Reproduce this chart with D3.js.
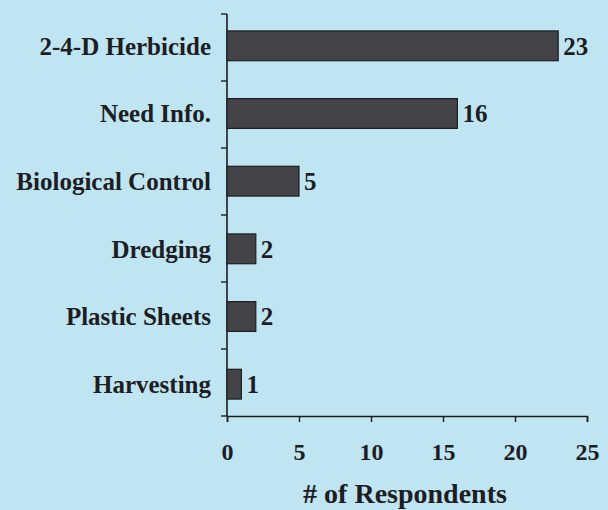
<!DOCTYPE html>
<html>
<head>
<meta charset="utf-8">
<script src="https://cdn.jsdelivr.net/npm/d3@7"></script>
<style>
  html, body { margin: 0; padding: 0; background: #bfe4f2; }
  svg { display: block; }
</style>
</head>
<body>
<div id="chart"></div>
<script>
const categories = ['2-4-D Herbicide', 'Need Info.', 'Biological Control', 'Dredging', 'Plastic Sheets', 'Harvesting'];
const respondents = [23, 16, 5, 2, 2, 1];
const xTicks = [0, 5, 10, 15, 20, 25];

const data = categories.map((c, i) => ({ label: c, value: respondents[i] }));

const margin = { top: 14, right: 21, bottom: 94, left: 227 };
const W = 608, H = 510;
const width = W - margin.left - margin.right;
const height = H - margin.top - margin.bottom;
const font = '"Liberation Serif", "Times New Roman", serif';
const ink = '#1d1d22';

const svg = d3.select('#chart').append('svg')
  .attr('width', W).attr('height', H)
  .style('background', '#bfe4f2')
  .append('g').attr('transform', `translate(${margin.left},${margin.top})`);

const x = d3.scaleLinear().domain([0, 25]).range([0, width]);
const y = d3.scaleBand().domain(categories).range([0, height]).paddingInner(0.56).paddingOuter(0.25);

// Category boundary ticks on y axis
const bounds = d3.range(categories.length + 1).map(i => i * height / categories.length);
svg.append('line').attr('x1', 0).attr('x2', 0).attr('y1', 0).attr('y2', height)
  .attr('stroke', ink).attr('stroke-width', 1.6);
svg.selectAll('.ytick').data(bounds).join('line').attr('class', 'ytick')
  .attr('x1', -6).attr('x2', 0).attr('y1', d => d).attr('y2', d => d)
  .attr('stroke', ink).attr('stroke-width', 1.4);

// Category labels
svg.selectAll('.cat').data(data).join('text').attr('class', 'cat')
  .attr('x', -16).attr('y', d => y(d.label) + y.bandwidth() / 2).attr('dy', '0.35em')
  .attr('text-anchor', 'end').attr('font-family', font).attr('font-weight', 'bold')
  .attr('font-size', '25px').attr('fill', ink).text(d => d.label);

// X axis
svg.append('g').attr('transform', `translate(0,${height})`)
  .call(d3.axisBottom(x).tickValues(xTicks).tickSize(6).tickPadding(21))
  .call(g => g.select('.domain').attr('stroke', ink).attr('stroke-width', 1.6))
  .call(g => g.selectAll('.tick line').attr('stroke', ink).attr('stroke-width', 1.4))
  .call(g => g.selectAll('.tick text').attr('fill', ink).attr('font-family', font)
    .attr('font-weight', 'bold').attr('font-size', '24px'));

// Axis title
svg.append('text').attr('x', width / 2 - 2).attr('y', height + 87)
  .attr('text-anchor', 'middle').attr('font-family', font).attr('font-weight', 'bold')
  .attr('font-size', '28px').attr('fill', ink).text('# of Respondents');

// Bars
svg.selectAll('.bar').data(data).join('rect').attr('class', 'bar')
  .attr('x', 0).attr('y', d => y(d.label))
  .attr('width', d => x(d.value)).attr('height', y.bandwidth())
  .attr('fill', '#444448').attr('stroke', '#1e1e22').attr('stroke-width', 1.2);

// Value labels
svg.selectAll('.val').data(data).join('text').attr('class', 'val')
  .attr('x', d => x(d.value) + 5).attr('y', d => y(d.label) + y.bandwidth() / 2).attr('dy', '0.35em')
  .attr('font-family', font).attr('font-weight', 'bold')
  .attr('font-size', '25px').attr('fill', ink).text(d => d.value);
</script>
</body>
</html>
